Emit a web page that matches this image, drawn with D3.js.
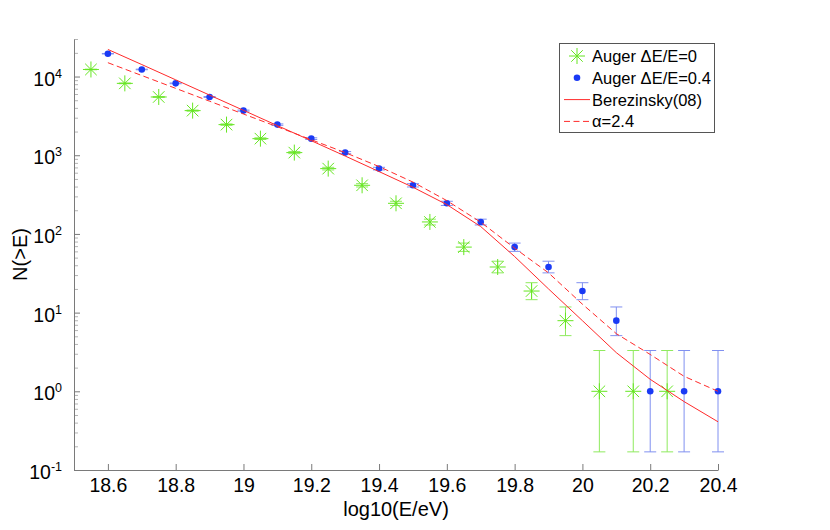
<!DOCTYPE html>
<html>
<head>
<meta charset="utf-8">
<script src="https://cdn.jsdelivr.net/npm/d3@7"></script>
<style>
    body { margin: 0; background: #fff; }
    svg { font-family: 'Liberation Sans', Arial, Helvetica, sans-serif; }
    .axis path, .axis line { stroke: #7a7a7a; }
    .axis.minor line { stroke: #b4b4b4; }
    .axis text { fill: #000; font-size: 19.5px; }
</style>
</head>
<body>
<div id="chart"></div>
<script>
// Auger dE/E=0 (green stars), bins shifted by half a bin
const energyNoSmear = [18.55, 18.65, 18.75, 18.85, 18.95, 19.05, 19.15, 19.25, 19.35,
    19.45, 19.55, 19.65, 19.75, 19.85, 19.95, 20.05, 20.15, 20.25];
const countsNoSmear = [12300, 8190, 5500, 3690, 2450, 1625, 1080, 676, 415,
    245, 142, 68, 38, 18.8, 7.9, 1, 1, 1];
const lowNoSmear = [12190, 8100, 5425, 3630, 2400, 1585, 1047, 650, 395,
    230, 130, 60, 32, 14.6, 5.1, 0.17, 0.17, 0.17];
const highNoSmear = [12410, 8280, 5575, 3750, 2500, 1665, 1113, 702, 435,
    260, 154, 76.5, 45, 24, 11.8, 3.3, 3.3, 3.3];

// Auger dE/E=0.4 (blue dots)
const energySmear = [18.6, 18.7, 18.8, 18.9, 19.0, 19.1, 19.2, 19.3, 19.4, 19.5,
    19.6, 19.7, 19.8, 19.9, 20.0, 20.1, 20.2, 20.3, 20.4];
const countsSmear = [19500, 12300, 8190, 5500, 3690, 2450, 1625, 1080, 676, 415,
    245, 142, 68, 38, 18.8, 7.9, 1, 1, 1];
const lowSmear = [19360, 12190, 8100, 5425, 3630, 2400, 1585, 1047, 650, 395,
    230, 130, 60, 32, 14.6, 5.1, 0.17, 0.17, 0.17];
const highSmear = [19640, 12410, 8280, 5575, 3750, 2500, 1665, 1113, 702, 435,
    260, 154, 76.5, 45, 24, 11.8, 3.3, 3.3, 3.3];

// model curves
const modelEnergy = [18.6, 18.7, 18.8, 18.9, 19.0, 19.1, 19.2, 19.3, 19.4, 19.5,
    19.6, 19.7, 19.8, 19.9, 20.0, 20.1, 20.2, 20.3, 20.4];
const berezinsky = [22100, 14200, 9080, 5810, 3720, 2380, 1530, 977, 620, 392,
    236, 124, 51.6, 20, 7.9, 3.1, 1.42, 0.74, 0.41];
const alpha24 = [15000, 10300, 7080, 4860, 3340, 2300, 1575, 1080, 718, 456,
    265, 141, 66, 32, 12.8, 5.4, 2.94, 1.55, 1.0];

const xTickValues = [18.6, 18.8, 19.0, 19.2, 19.4, 19.6, 19.8, 20.0, 20.2, 20.4];
const xTickLabels = ['18.6', '18.8', '19', '19.2', '19.4', '19.6', '19.8', '20', '20.2', '20.4'];
const yTickExponents = [-1, 0, 1, 2, 3, 4];
const legendLabels = ['Auger \u0394E/E=0', 'Auger \u0394E/E=0.4', 'Berezinsky(08)', '\u03b1=2.4'];

const GREEN = '#66e622', GREEN_BAR = '#8fea5e';
const BLUE = '#1a3af5', BLUE_BAR = '#8090f0';
const RED = '#ff2a2a';

function starPath(r) {
    const d = r * 0.72;
    return `M${-r},0H${r}M0,${-r}V${r}M${-d},${-d}L${d},${d}M${-d},${d}L${d},${-d}`;
}

function drawErrorBars(g, xs, lo, hi, x, y, color) {
    const cap = 6;
    xs.forEach((e, i) => {
        const px = x(e);
        g.append('line').attr('x1', px).attr('x2', px).attr('y1', y(lo[i])).attr('y2', y(hi[i]))
            .attr('stroke', color).attr('stroke-width', 1);
        [lo[i], hi[i]].forEach(v => {
            g.append('line').attr('x1', px - cap).attr('x2', px + cap).attr('y1', y(v)).attr('y2', y(v))
                .attr('stroke', color).attr('stroke-width', 1);
        });
    });
}

const width = 830, height = 530;
const plot = { left: 74, right: 718, top: 39, bottom: 470 };

const svg = d3.select('#chart').append('svg')
    .attr('width', width)
    .attr('height', height);
svg.append('rect').attr('width', width).attr('height', height).attr('fill', '#fff');

const x = d3.scaleLinear().domain([18.5, 20.4]).range([plot.left, plot.right]);
const y = d3.scaleLog().domain([0.1, 3e4]).range([plot.bottom, plot.top]);

// --- axes
const xAxis = d3.axisBottom(x).tickValues(xTickValues)
    .tickFormat((d, i) => xTickLabels[i])
    .tickSizeInner(-6).tickSizeOuter(0).tickPadding(8.5);
svg.append('g').attr('class', 'x axis')
    .attr('transform', `translate(0,${plot.bottom})`)
    .call(xAxis);

// minor log ticks 2..9 per decade
const minorTicks = [];
yTickExponents.forEach(e => {
    for (let k = 2; k <= 9; k++) {
        const v = k * Math.pow(10, e);
        if (v <= 3e4) minorTicks.push(v);
    }
});
svg.append('g').attr('class', 'y axis minor')
    .attr('transform', `translate(${plot.left},0)`)
    .call(d3.axisLeft(y).tickValues(minorTicks).tickFormat('').tickSizeInner(-4).tickSizeOuter(0))
    .select('.domain').remove();

const yAxis = d3.axisLeft(y).tickValues(yTickExponents.map(e => Math.pow(10, e)))
    .tickFormat('').tickSizeInner(-6).tickSizeOuter(0).tickPadding(12);
const yAxisView = svg.append('g').attr('class', 'y axis')
    .attr('transform', `translate(${plot.left},0)`)
    .call(yAxis);
yAxisView.selectAll('.tick text').each(function(d, i) {
    const t = d3.select(this).attr('dy', 8.5);
    t.append('tspan').text('10');
    t.append('tspan').attr('font-size', 12.5).attr('dy', -8).text(String(yTickExponents[i]));
});

svg.append('text')
    .attr('x', (plot.left + plot.right) / 2).attr('y', 516)
    .attr('text-anchor', 'middle').attr('font-size', 20)
    .text('log10(E/eV)');
svg.append('text')
    .attr('transform', `translate(27,${(plot.top + plot.bottom) / 2}) rotate(-90)`)
    .attr('text-anchor', 'middle').attr('font-size', 20)
    .text('N(>E)');

// --- data
const g_chart = svg.append('g').attr('class', 'g-chart');

drawErrorBars(g_chart, energyNoSmear, lowNoSmear, highNoSmear, x, y, GREEN_BAR);
g_chart.selectAll('path.star').data(countsNoSmear).join('path')
    .attr('class', 'star')
    .attr('transform', (d, i) => `translate(${x(energyNoSmear[i])},${y(d)})`)
    .attr('d', starPath(8))
    .attr('stroke', GREEN).attr('stroke-width', 1).attr('fill', 'none');

drawErrorBars(g_chart, energySmear, lowSmear, highSmear, x, y, BLUE_BAR);
g_chart.selectAll('circle.dot').data(countsSmear).join('circle')
    .attr('class', 'dot')
    .attr('cx', (d, i) => x(energySmear[i]))
    .attr('cy', d => y(d))
    .attr('r', 3.3)
    .attr('fill', BLUE);

const line = d3.line()
    .x((d, i) => x(modelEnergy[i]))
    .y(d => y(d));

g_chart.append('path').datum(berezinsky)
    .attr('fill', 'none').attr('stroke', RED).attr('stroke-width', 1)
    .attr('d', line);
g_chart.append('path').datum(alpha24)
    .attr('fill', 'none').attr('stroke', RED).attr('stroke-width', 1)
    .attr('stroke-dasharray', '6,3.5')
    .attr('d', line);

// --- legend
const legend = svg.append('g').attr('class', 'legend');
legend.append('rect')
    .attr('x', 559.5).attr('y', 43.5).attr('width', 155).attr('height', 89)
    .attr('fill', '#fff').attr('stroke', '#555').attr('stroke-width', 1);
const rowY = i => 56 + i * 21.8;
legend.append('path')
    .attr('transform', `translate(577,${rowY(0)})`)
    .attr('d', starPath(8)).attr('stroke', GREEN).attr('fill', 'none');
legend.append('circle').attr('cx', 577).attr('cy', rowY(1)).attr('r', 3.3).attr('fill', BLUE);
legend.append('line').attr('x1', 564).attr('x2', 590).attr('y1', rowY(2)).attr('y2', rowY(2))
    .attr('stroke', RED);
legend.append('line').attr('x1', 564).attr('x2', 590).attr('y1', rowY(3)).attr('y2', rowY(3))
    .attr('stroke', RED).attr('stroke-dasharray', '6,3.5');
legend.selectAll('text').data(legendLabels).join('text')
    .attr('x', 592).attr('y', (d, i) => rowY(i) + 6)
    .attr('font-size', 16.5)
    .text(d => d);
</script>
</body>
</html>
